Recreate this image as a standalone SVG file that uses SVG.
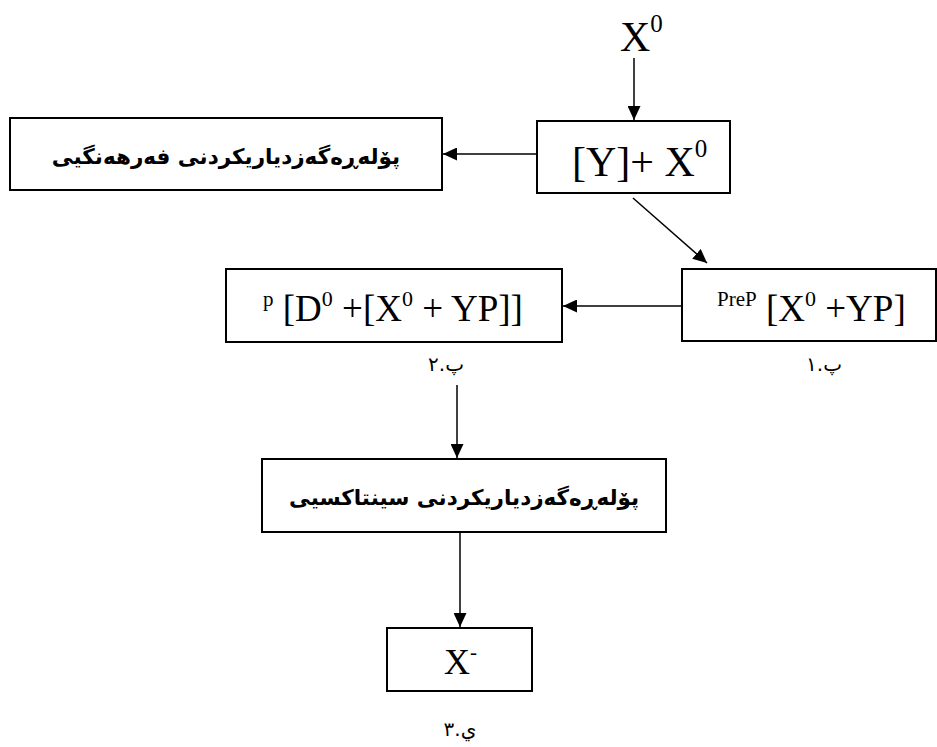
<svg xmlns="http://www.w3.org/2000/svg" width="937" height="747" viewBox="0 0 937 747">
<style>
.box{fill:#fff;stroke:#000;stroke-width:2}
.con{stroke:#000;stroke-width:1.5;fill:none;marker-end:url(#ah)}
.tm{font-family:"Liberation Serif","Times New Roman",serif;fill:#000}
.ku{font-family:"DejaVu Sans","Noto Sans",sans-serif;font-weight:bold;font-size:21.5px;fill:#000}
.lb{font-family:"DejaVu Sans","Noto Sans",sans-serif;font-size:20px;fill:#000}
</style>
<defs>
<marker id="ah" markerUnits="userSpaceOnUse" markerWidth="15" markerHeight="13" refX="14" refY="6.5" orient="auto">
<path d="M0,0 L14,6.5 L0,13 z" fill="#000"/>
</marker>
</defs>
<rect width="937" height="747" fill="#fff"/>
<g id="connectors">
<line class="con" x1="634" y1="58" x2="634" y2="120"/>
<line class="con" x1="537" y1="154" x2="443" y2="154"/>
<line class="con" x1="633" y1="198" x2="707" y2="263"/>
<line class="con" x1="682" y1="306" x2="563" y2="306"/>
<line class="con" x1="457" y1="385" x2="457" y2="458"/>
<line class="con" x1="460" y1="532" x2="460" y2="627"/>
</g>
<g id="x0-top">
<text class="tm" x="620" y="51" font-size="42">X<tspan font-size="25" dy="-19">0</tspan></text>
</g>
<g id="box-lexical">
<rect class="box" x="10" y="118" width="432" height="72"/>
<text class="ku" x="226" y="164" text-anchor="middle">پۆلەڕەگەزدیاریکردنی فەرهەنگیی</text>
</g>
<g id="box-yx0">
<rect class="box" x="537" y="121" width="193" height="72"/>
<text class="tm" x="572" y="176" font-size="42">[Y]+ X<tspan font-size="25" dy="-19">0</tspan></text>
</g>
<g id="box-prep">
<rect class="box" x="682" y="269" width="254" height="72"/>
<text class="tm" x="717" y="321" font-size="37"><tspan font-size="21" dy="-15">PreP</tspan><tspan dy="15"> [X</tspan><tspan font-size="22" dy="-15">0</tspan><tspan dy="15"> +YP]</tspan></text>
<text class="lb" x="824" y="371" text-anchor="middle">پ.١</text>
</g>
<g id="box-dp">
<rect class="box" x="226" y="269" width="336" height="73"/>
<text class="tm" x="263" y="321" font-size="37"><tspan font-size="21" dy="-15">p</tspan><tspan dy="15"> [D</tspan><tspan font-size="22" dy="-15">0</tspan><tspan dy="15"> +[X</tspan><tspan font-size="22" dy="-15">0</tspan><tspan dy="15"> + YP]]</tspan></text>
<text class="lb" x="446" y="371" text-anchor="middle">پ.٢</text>
</g>
<g id="box-syntactic">
<rect class="box" x="262" y="459" width="404" height="73"/>
<text class="ku" x="464" y="505" text-anchor="middle">پۆلەڕەگەزدیاریکردنی سینتاکسیی</text>
</g>
<g id="box-xbar">
<rect class="box" x="387" y="628" width="145" height="63"/>
<text class="tm" x="444" y="674" font-size="36">X<tspan font-size="21" dy="-15">-</tspan></text>
<text class="lb" x="460" y="736" text-anchor="middle">ي.٣</text>
</g>
</svg>
